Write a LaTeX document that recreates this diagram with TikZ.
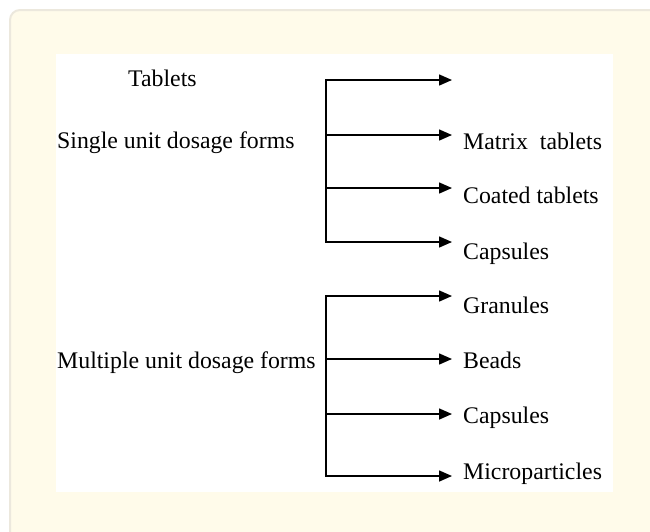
\documentclass[tikz,border=0pt]{standalone}
\usepackage{fontspec}
\setmainfont{Liberation Serif}
\usetikzlibrary{arrows.meta}
\definecolor{creme}{HTML}{FFFBEA}
\definecolor{borda}{HTML}{ECE8DD}

\begin{document}
\begin{tikzpicture}[x=1pt,y=-1pt,font=\fontsize{23.8}{28}\selectfont,
  seta/.style={line width=1.5pt,-{Triangle[length=13pt,width=11pt]}},
  rotulo/.style={anchor=base west,inner sep=0pt}]
\useasboundingbox (0,0) rectangle (650,531);
\clip (0,0) rectangle (650,531);
\draw[borda,line width=2pt,fill=creme,rounded corners=10pt] (10,10) rectangle (670,551);
\fill[white] (56,54) rectangle (613,492);
\node[rotulo] (tab) at (128,86) {Tablets};
\node[rotulo] (single) at (57,148) {Single unit dosage forms};
\node[rotulo] (multi) at (57,368) {Multiple unit dosage forms};
% single unit
\foreach \y [count=\i] in {80,135,188,242} {
  \coordinate (s\i) at (326,\y);
  \coordinate (se\i) at (452,\y);
  \draw[seta] (s\i) -- (se\i);
}
\draw[line width=1.5pt,line cap=rect] (s1) -- (s4);
\foreach \yt/\lab [count=\i from 2] in {149/{Matrix\ \ tablets},203/{Coated tablets},259/{Capsules}}
  \node[rotulo] (sl\i) at (463,\yt) {\lab};
% multiple unit
\foreach \y/\yt/\lab [count=\i] in {296/313/{Granules},359/368/{Beads},414/423/{Capsules},476/479/{Microparticles}}{
  \coordinate (m\i) at (326,\y);
  \coordinate (me\i) at (452,\y);
  \draw[seta] (m\i) -- (me\i);
  \node[rotulo] (ml\i) at (463,\yt) {\lab};
}
\draw[line width=1.5pt,line cap=rect] (m1) -- (m4);
\end{tikzpicture}
\end{document}
